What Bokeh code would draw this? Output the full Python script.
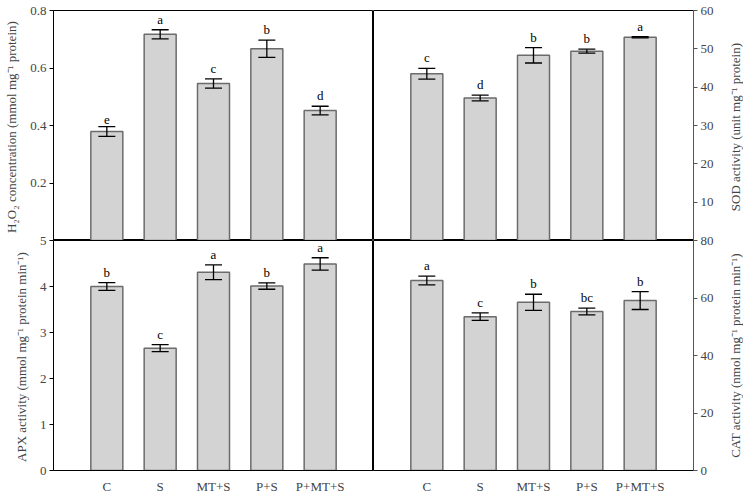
from bokeh.plotting import figure
from bokeh.models import (FactorRange, Range1d, FixedTicker, Whisker, TeeHead,
                          ColumnDataSource)
from bokeh.layouts import row, column
from bokeh.embed import file_html
from bokeh.resources import INLINE
from bokeh.core.properties import value

treatments = ["C", "S", "MT+S", "P+S", "P+MT+S"]

h2o2 = [0.379, 0.717, 0.546, 0.667, 0.452]
h2o2_err = [0.017, 0.016, 0.016, 0.030, 0.015]
h2o2_letters = ["e", "a", "c", "b", "d"]
h2o2_ticks = [0.2, 0.4, 0.6, 0.8]

sod = [43.5, 37.2, 48.3, 49.4, 53.0]
sod_err = [1.4, 0.75, 2.0, 0.5, 0.15]
sod_letters = ["c", "d", "b", "b", "a"]
sod_ticks = [10, 20, 30, 40, 50, 60]

apx = [4.00, 2.66, 4.31, 4.01, 4.49]
apx_err = [0.085, 0.075, 0.16, 0.07, 0.135]
apx_letters = ["b", "c", "a", "b", "a"]
apx_ticks = [0, 1, 2, 3, 4, 5]

cat = [66.1, 53.5, 58.5, 55.3, 59.1]
cat_err = [1.5, 1.3, 2.8, 1.2, 3.1]
cat_letters = ["a", "c", "b", "bc", "b"]
cat_ticks = [0, 20, 40, 60, 80]

FONT = "Liberation Serif"
OVERLAP = 7
FH = 230


def panel(vals, errs, letters, ymax, ticks, side, show_x, top_row, label=None):
    src = ColumnDataSource(dict(
        x=treatments, top=vals,
        upper=[v + e for v, e in zip(vals, errs)],
        lower=[v - e for v, e in zip(vals, errs)],
        letter=letters))
    p = figure(
        x_range=FactorRange(factors=treatments, range_padding=0.5,
                            range_padding_units="absolute"),
        y_range=Range1d(0, ymax),
        frame_width=320, frame_height=FH,
        output_backend="svg", toolbar_location=None,
        y_axis_location=side,
        x_axis_location="below" if show_x else None,
        min_border_left=53 if side == "left" else 0,
        min_border_right=27 if side == "right" else 0,
        min_border_top=10 if top_row else OVERLAP,
        min_border_bottom=0 if top_row else 22,
        background_fill_color="white",
        border_fill_color=None,
    )
    p.outline_line_color = "black"
    p.outline_line_width = 1
    p.xgrid.visible = False
    p.ygrid.visible = False

    p.vbar(x="x", top="top", bottom=0, width=0.6, source=src,
           fill_color="#d3d3d3", line_color="#6b6b6b", line_width=1.5)
    w = Whisker(source=src, base="x", upper="upper", lower="lower",
                line_color="black", line_width=1.3, level="overlay",
                upper_head=TeeHead(size=17, line_color="black", line_width=1.3),
                lower_head=TeeHead(size=17, line_color="black", line_width=1.3))
    p.add_layout(w)
    p.text(x="x", y="upper", text="letter", source=src,
           text_align="center", text_baseline="bottom", y_offset=-3,
           text_font=value(FONT), text_font_size="13px", text_color="black")

    ya = p.yaxis[0]
    ya.ticker = FixedTicker(ticks=ticks)
    ya.major_label_text_font = FONT
    ya.major_label_text_font_size = "13px"
    ya.major_label_standoff = 3
    ya.major_tick_in = 0
    ya.major_tick_out = 4
    ya.minor_tick_line_color = None
    if side == "right":
        ya.axis_line_color = "#555555"
        ya.major_tick_line_color = "#555555"
    else:
        ya.axis_label = label
        ya.axis_label_text_font = FONT
        ya.axis_label_text_font_style = "normal"
        ya.axis_label_text_font_size = "13px"
        ya.axis_label_standoff = 8
        ya.axis_line_color = "black"
        ya.major_tick_line_color = "black"

    if show_x:
        xa = p.xaxis[0]
        xa.major_label_text_font = FONT
        xa.major_label_text_font_size = "13px"
        xa.major_tick_in = 0
        xa.major_tick_out = 0
        xa.major_tick_line_color = None
        xa.minor_tick_line_color = None
        xa.major_label_standoff = 8
        xa.axis_line_color = "black"
    return p


def side_label(label, top_row):
    # narrow companion figure whose only visible element is the axis label,
    # so that the right-hand title reads bottom-to-top like the reference
    f = figure(frame_width=1, frame_height=FH,
               x_range=Range1d(0, 1), y_range=Range1d(0, 1),
               output_backend="svg", toolbar_location=None,
               x_axis_location=None, y_axis_location="left",
               min_border_left=22, min_border_right=0,
               min_border_top=10 if top_row else OVERLAP,
               min_border_bottom=0 if top_row else 22,
               background_fill_color=None, border_fill_color=None,
               outline_line_color=None)
    f.xgrid.visible = False
    f.ygrid.visible = False
    ya = f.yaxis[0]
    ya.ticker = FixedTicker(ticks=[])
    ya.major_label_standoff = 0
    ya.major_tick_in = 0
    ya.major_tick_out = 0
    ya.axis_line_color = None
    ya.major_tick_line_color = None
    ya.minor_tick_line_color = None
    ya.axis_label = label
    ya.axis_label_text_font = FONT
    ya.axis_label_text_font_style = "normal"
    ya.axis_label_text_font_size = "13px"
    ya.axis_label_standoff = 0
    return f


p1 = panel(h2o2, h2o2_err, h2o2_letters, 0.8, h2o2_ticks, "left", False, True,
           "H₂O₂ concentration (mmol  mg⁻¹ protein)")
p2 = panel(sod, sod_err, sod_letters, 60, sod_ticks, "right", False, True)
l2 = side_label("SOD activity (unit mg⁻¹  protein)", True)
p3 = panel(apx, apx_err, apx_letters, 5, apx_ticks, "left", True, False,
           "APX activity (mmol  mg⁻¹ protein min⁻¹)")
p4 = panel(cat, cat_err, cat_letters, 80, cat_ticks, "right", True, False)
l4 = side_label("CAT activity (nmol mg⁻¹ protein min⁻¹)", False)

top = row(p1, p2, l2)
bottom = row(p3, p4, l4)
bottom.margin = (-OVERLAP, 0, 0, 0)
layout = column(top, bottom)

open("out.html", "w").write(file_html(layout, INLINE))
